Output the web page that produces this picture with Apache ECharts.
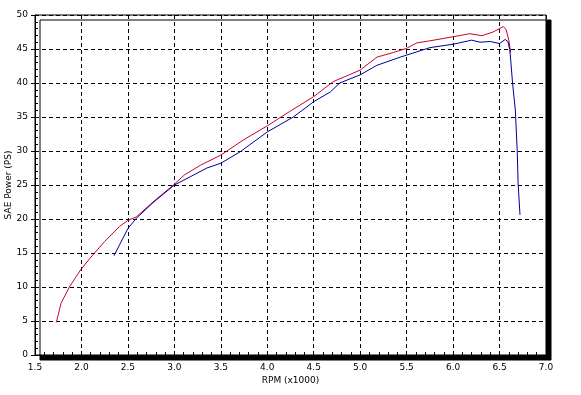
<!DOCTYPE html>
<html>
<head>
<meta charset="utf-8">
<script src="https://cdn.jsdelivr.net/npm/echarts@6/dist/echarts.min.js"></script>
<style>html,body{margin:0;padding:0;background:#fff}#c{width:581px;height:395px}</style>
</head>
<body>
<div id="c"></div>
<script>
const xTicks = [1.5, 2.0, 2.5, 3.0, 3.5, 4.0, 4.5, 5.0, 5.5, 6.0, 6.5, 7.0];
const yTicks = [0, 5, 10, 15, 20, 25, 30, 35, 40, 45, 50];

const redRpm = [1.73,1.78,1.87,1.99,2.09,2.25,2.41,2.50,2.59,2.77,2.99,3.11,3.28,3.50,3.74,4.00,4.24,4.50,4.71,5.00,5.18,5.36,5.50,5.61,5.75,6.00,6.18,6.31,6.43,6.50,6.54,6.57,6.60,6.62];
const redPower = [4.8,7.6,10.0,12.5,14.2,16.7,18.9,19.8,20.3,22.5,25.0,26.5,27.9,29.4,31.6,33.7,35.8,38.0,40.2,41.9,43.8,44.5,45.1,45.9,46.2,46.8,47.25,46.95,47.5,48.0,48.3,47.9,46.3,44.5];

const blueRpm = [2.35,2.41,2.50,2.59,2.77,3.00,3.17,3.35,3.50,3.71,4.00,4.28,4.50,4.68,4.78,5.00,5.18,5.43,5.50,5.75,6.00,6.20,6.29,6.40,6.50,6.56,6.59,6.61,6.62,6.64,6.67,6.69,6.70,6.72];
const bluePower = [14.6,16.2,18.6,20.1,22.4,25.0,26.2,27.5,28.2,29.9,32.8,35.0,37.25,38.7,40.0,41.2,42.6,43.8,44.1,45.2,45.7,46.3,46.0,46.1,45.8,46.4,46.1,44.9,43.4,40.0,36.0,30.1,25.2,20.6];

const redData = redRpm.map((x, i) => [x, redPower[i]]);
const blueData = blueRpm.map((x, i) => [x, bluePower[i]]);

const font = 'DejaVu Sans';
const chart = echarts.init(document.getElementById('c'), null, {renderer: 'canvas'});
chart.setOption({
  animation: false,
  backgroundColor: '#fff',
  grid: {
    left: 35, top: 15, right: 35, bottom: 40,
    containLabel: false, outerBoundsMode: 'none',
    show: true, backgroundColor: '#fff', borderColor: '#000', borderWidth: 1,
    shadowColor: '#000', shadowOffsetX: 5, shadowOffsetY: 5, shadowBlur: 0
  },
  xAxis: {
    type: 'value', min: 1.5, max: 7.0, interval: 0.5,
    name: 'RPM (x1000)', nameLocation: 'middle', nameGap: 21,
    nameMoveOverlap: false,
    nameTextStyle: {color: '#000', fontSize: 9, fontFamily: font},
    axisLine: {show: true, lineStyle: {color: '#000', width: 1}},
    axisTick: {show: false},
    minorTick: {show: true, splitNumber: 5, length: -3, lineStyle: {color: '#000'}},
    axisLabel: {color: '#000', fontSize: 9, fontFamily: font, margin: 8,
      formatter: v => v.toFixed(1)},
    splitLine: {show: true, lineStyle: {color: '#000', type: [4, 3], width: 1}}
  },
  yAxis: {
    type: 'value', min: 0, max: 50, interval: 5,
    name: 'SAE Power (PS)', nameLocation: 'middle', nameGap: 22,
    nameMoveOverlap: false,
    nameTextStyle: {color: '#000', fontSize: 9, fontFamily: font},
    axisLine: {show: true, lineStyle: {color: '#000', width: 1}},
    axisTick: {show: true, length: 4, lineStyle: {color: '#000'}},
    minorTick: {show: true, splitNumber: 5, length: -3, lineStyle: {color: '#000'}},
    axisLabel: {color: '#000', fontSize: 9, fontFamily: font, margin: 7},
    splitLine: {show: true, lineStyle: {color: '#000', type: [4, 3], width: 1}}
  },
  series: [
    {type: 'line', data: redData, showSymbol: false, smooth: false,
      lineStyle: {color: '#cc0033', width: 1}, z: 3},
    {type: 'line', data: blueData, showSymbol: false, smooth: false,
      lineStyle: {color: '#000099', width: 1}, z: 4}
  ]
});
</script>
</body>
</html>
